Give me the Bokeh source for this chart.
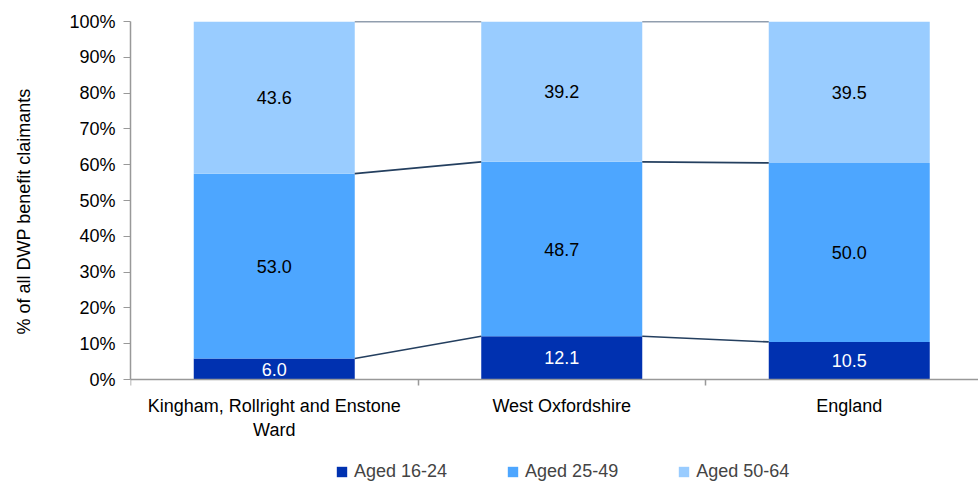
from bokeh.plotting import figure
from bokeh.models import ColumnDataSource, FixedTicker, Legend, LegendItem, Range1d
from bokeh.embed import file_html
from bokeh.resources import INLINE
from bokeh.core.properties import value

# ---- data ----
categories = ["Kingham, Rollright and Enstone\nWard", "West Oxfordshire", "England"]
series = ["Aged 16-24", "Aged 25-49", "Aged 50-64"]
aged_16_24 = [6.0, 12.1, 10.5]
aged_25_49 = [53.0, 48.7, 50.0]
aged_50_64 = [43.6, 39.2, 39.5]
y_ticks = [0, 10, 20, 30, 40, 50, 60, 70, 80, 90, 100]
y_title = "% of all DWP benefit claimants"

colors = ["#0031b0", "#4da6ff", "#99ccff"]
label_colors = ["white", "black", "black"]
FONT = "Liberation Sans"
FS = "18px"
BAR_W = 0.56
FRAME_W = 848
CAT_PX = 287.5      # the chart is cropped on the right in the reference
PLOT_PX = 358       # pixel height of the 0-100% band
FRAME_H = 460       # frame extends below 0% to hold category labels + legend

values = [aged_16_24, aged_25_49, aged_50_64]
n = len(categories)
xs = [i + 0.5 for i in range(n)]
totals = [sum(v[i] for v in values) for i in range(n)]

y_start = -(FRAME_H - PLOT_PX) * 100.0 / PLOT_PX
p = figure(frame_width=FRAME_W, frame_height=FRAME_H, output_backend="svg", toolbar_location=None,
           x_range=Range1d(0, FRAME_W / CAT_PX), y_range=Range1d(y_start, 100),
           min_border_left=130, min_border_right=0, min_border_top=21,
           min_border_bottom=0)
p.outline_line_color = None
p.grid.visible = False
p.background_fill_color = "white"

# stacked (normalised to 100%) bars
bottoms = [0.0] * n
cum = []
renderers = []
for s, vals, col, lc in zip(series, values, colors, label_colors):
    tops = [bottoms[i] + vals[i] / totals[i] * 100 for i in range(n)]
    src = ColumnDataSource(dict(x=xs, bottom=list(bottoms), top=tops,
                                mid=[(bottoms[i] + tops[i]) / 2 for i in range(n)],
                                lab=[f"{v:.1f}" for v in vals]))
    r = p.vbar(x="x", bottom="bottom", top="top", width=BAR_W, source=src,
               fill_color=col, line_color=None)
    renderers.append(r)
    p.text(x="x", y="mid", text="lab", source=src, text_align="center",
           text_baseline="middle", text_color=lc, text_font=value(FONT),
           text_font_size=FS)
    cum.append(tops)
    bottoms = tops

# series connecting lines
x0s, y0s, x1s, y1s = [], [], [], []
for tops in cum:
    for i in range(n - 1):
        x0s.append(xs[i] + BAR_W / 2)
        y0s.append(tops[i])
        x1s.append(xs[i + 1] - BAR_W / 2)
        y1s.append(tops[i + 1])
p.segment(x0=x0s, y0=y0s, x1=x1s, y1=y1s, line_color="#243f5f", line_width=1.6)

# axes
axis_col = "#999999"
yax = p.yaxis[0]
yax.ticker = FixedTicker(ticks=y_ticks)
yax.bounds = (0, 100)
yax.major_label_overrides = {t: f"{t}%" for t in y_ticks}
yax.minor_tick_line_color = None
yax.major_tick_in = 0
yax.major_tick_out = 7
yax.axis_line_color = axis_col
yax.axis_line_width = 1.5
yax.major_tick_line_color = axis_col
yax.major_label_text_font = FONT
yax.major_label_text_font_size = FS
yax.major_label_text_color = "black"
yax.major_label_standoff = 8
# leading no-break spaces centre the visible title on the 0-100% band
yax.axis_label = "\u00a0" * 16 + y_title
yax.axis_label_text_font = FONT
yax.axis_label_text_font_size = FS
yax.axis_label_text_font_style = "normal"
yax.axis_label_text_color = "black"
yax.axis_label_standoff = 32

xax = p.xaxis[0]
xax.fixed_location = 0
xax.ticker = FixedTicker(ticks=xs, minor_ticks=list(range(n + 1)))
xax.major_label_overrides = {x: c for x, c in zip(xs, categories)}
xax.major_tick_in = 0
xax.major_tick_out = 0
xax.minor_tick_in = 0
xax.minor_tick_out = 6
xax.axis_line_color = axis_col
xax.axis_line_width = 1.5
xax.minor_tick_line_color = axis_col
xax.minor_tick_line_width = 1.5
xax.major_label_text_font = FONT
xax.major_label_text_font_size = FS
xax.major_label_text_color = "black"
xax.major_label_standoff = 10

legend = Legend(items=[LegendItem(label=s, renderers=[r]) for s, r in zip(series, renderers)],
                orientation="horizontal", location=(205, -1),
                border_line_alpha=0, background_fill_alpha=0,
                label_text_font=FONT, label_text_font_size=FS,
                glyph_width=13, glyph_height=13, label_standoff=6, spacing=59,
                margin=0, padding=0)
p.add_layout(legend)

open("out.html", "w").write(file_html(p, INLINE))
